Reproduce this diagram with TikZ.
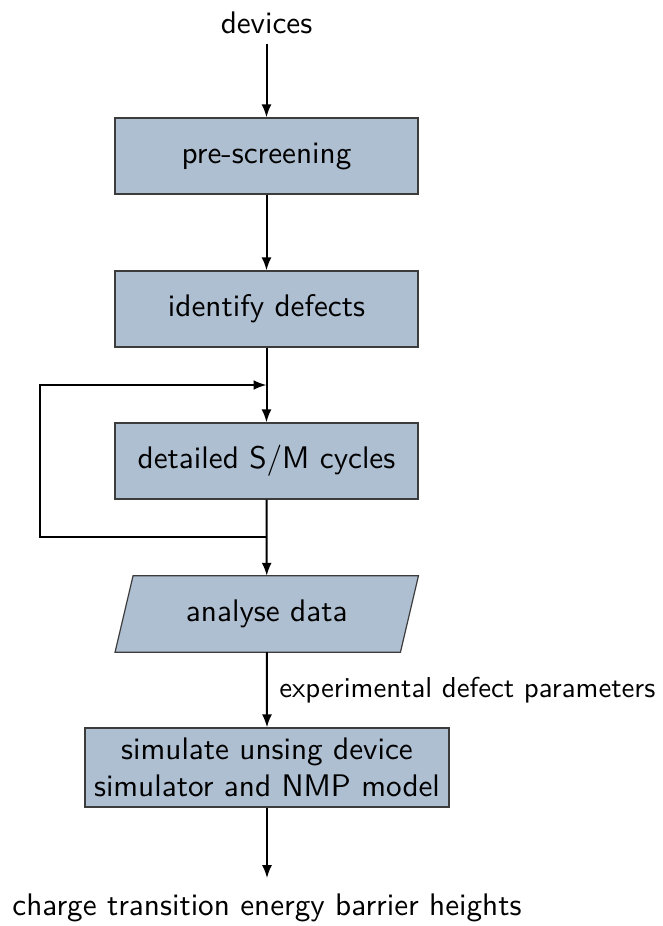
\documentclass[tikz,border=0pt]{standalone}
\usepackage{fontspec}
\setsansfont{lmsans10-regular.otf}
\usetikzlibrary{arrows.meta,backgrounds,calc}
\definecolor{boxfill}{RGB}{174,191,210}
\definecolor{boxline}{RGB}{60,60,60}
\tikzset{
  procbox/.style={draw=boxline, fill=boxfill, line width=1.2pt, minimum width=303pt, minimum height=76pt, inner sep=3pt, align=center},
  flow/.style={line width=2pt, -{Latex[length=13pt,width=10pt]}},
  lbl/.style={font=\sffamily\fontsize{28.8}{34}\selectfont},
}
\begin{document}
\begin{tikzpicture}[x=1pt,y=-1pt, font=\sffamily\fontsize{31.2}{37.5}\selectfont]
\useasboundingbox (0,0) rectangle (662,926);
\node[anchor=base, inner sep=10pt] (dev) at (266.5,33) {devices};
\node[procbox] (pre) at (266.5,156) {pre-screening};
\node[procbox] (ide) at (266.5,309) {identify defects};
\node[procbox] (det) at (266.5,461) {detailed S/M cycles};
\node[minimum width=285pt, minimum height=76pt, inner sep=0pt] (ana) at (266.75,614) {analyse data};
\begin{scope}[on background layer]
\draw[draw=boxline, fill=boxfill, line width=1.2pt]
  ([xshift=9pt]ana.north west) -- ([xshift=9pt]ana.north east) -- ([xshift=-9pt]ana.south east) -- ([xshift=-9pt]ana.south west) -- cycle;
\end{scope}
\node[procbox, minimum width=364pt, minimum height=79pt] (sim) at (267,767.5) {simulate unsing device\\simulator and NMP model};
\node[anchor=base, inner sep=15pt] (out) at (267,915) {charge transition energy barrier heights};
\coordinate (lb) at (266.5,537);
\coordinate (ll) at (40,537);
\coordinate (lu) at (40,385);
\coordinate (lt) at (266.5,385);
\draw[flow] (dev.south) -- (pre.north);
\draw[flow] (pre.south) -- (ide.north);
\draw[flow] (ide.south) -- (det.north);
\draw[flow] (det.south) -- (ana.north);
\draw[flow] (lb) -- (ll) -- (lu) -- (lt);
\draw[flow] (ana.south) -- node[midway, right, inner sep=11.5pt, lbl] {experimental defect parameters} (sim.north);
\draw[flow] (sim.south) -- (out.north);
\end{tikzpicture}
\end{document}
